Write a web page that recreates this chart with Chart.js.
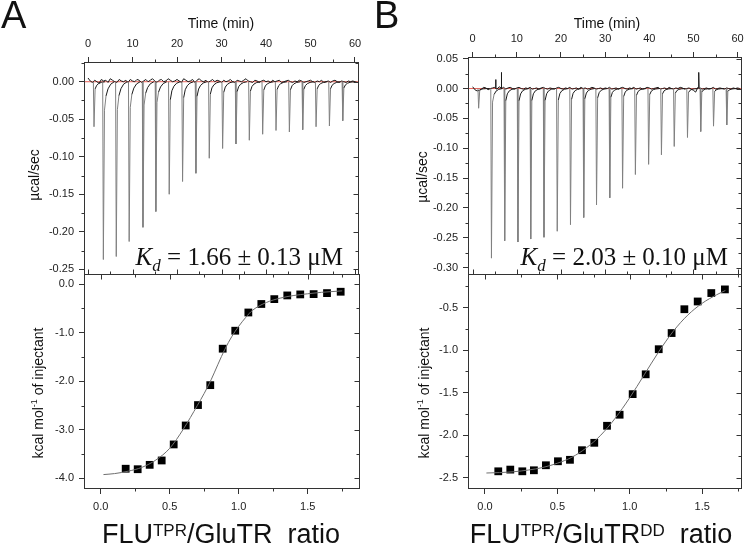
<!DOCTYPE html>
<html><head><meta charset="utf-8">
<script src="https://cdn.jsdelivr.net/npm/chart.js@4"></script>
<style>
html,body{margin:0;padding:0;background:#fff;}
#wrap{position:relative;width:745px;height:546px;overflow:hidden;background:#fff;}
canvas{position:absolute;}
</style></head><body>
<div id="wrap">
<canvas id="cA1" width="372" height="275" style="left:0;top:0;width:372px;height:275px"></canvas>
<canvas id="cB1" width="373" height="275" style="left:372px;top:0;width:373px;height:275px"></canvas>
<canvas id="cA2" width="372" height="272" style="left:0;top:274px;width:372px;height:272px"></canvas>
<canvas id="cB2" width="373" height="272" style="left:372px;top:274px;width:373px;height:272px"></canvas>
</div>
<script>
// ================= DATA =================
// Raw titration traces (top panels): injection times (min) and peak heights (µcal/sec)
const injTimesA = [1.2,3.3,6.2,9.1,12.2,15.1,18.1,21.1,24.1,27.1,30.1,33.1,36.1,39.1,42.1,45.1,48.1,51.1,54.1,57.1];
const peakDepthsA = [-0.060,-0.237,-0.233,-0.213,-0.194,-0.173,-0.150,-0.133,-0.122,-0.102,-0.089,-0.083,-0.078,-0.070,-0.065,-0.067,-0.064,-0.060,-0.059,-0.052];
const injTimesB = [1.2,4.1,7.1,10.1,13.0,16.0,19.0,22.0,25.0,27.9,30.9,33.8,36.7,39.7,42.6,45.5,48.5,51.5,54.4,57.4];
const peakDepthsB = [-0.033,-0.284,-0.255,-0.257,-0.252,-0.249,-0.239,-0.228,-0.216,-0.195,-0.183,-0.167,-0.144,-0.127,-0.111,-0.097,-0.082,-0.072,-0.063,-0.061];
// baseline wiggle, one value every 0.5 min from t = 0 (in 0.001 µcal/sec)
const baselineA_milli = [5,1,-1,2,0,-2,3,1,2,-1,4,2,0,-1,3,1,0,2,-1,3,
  1,0,3,2,-1,1,3,0,2,4,1,-1,2,3,0,1,4,2,0,1,
  3,1,-1,4,2,0,1,3,-1,2,4,1,0,2,-1,1,3,0,2,1,
  -1,2,0,1,3,0,-1,2,1,0,2,4,1,0,-1,2,1,-1,1,2,
  0,1,-1,2,0,1,2,-1,0,1,2,0,-1,1,0,2,1,-1,0,1,
  2,0,-1,1,0,2,-1,0,1,-1,1,2,0,-1,1,0,-1,1,0,1,0,-1];
const baselineB_milli = [3,-2,-4,-3,-1,2,1,-2,0,1,2,-1,3,1,2,-1,1,2,0,-1,
  1,2,0,-1,1,0,2,-1,0,1,-1,1,2,0,-1,1,0,-1,1,2,
  0,-1,1,0,2,-1,0,1,-1,2,0,1,-1,0,2,1,-1,0,1,-1,
  1,0,2,-1,0,1,-1,1,2,0,-1,1,0,2,-1,0,1,-1,0,2,
  1,-1,0,1,2,-1,0,1,-1,2,0,-1,1,0,2,1,-1,0,1,-1,
  -3,-6,2,1,-1,0,1,-1,0,2,-1,0,1,0,-1,1,0,-1,1,0,1,0];
// isolated upward spikes in trace B
const spikeTimesB = [5.2, 6.5, 51.2];
const spikeValsB = [0.015, 0.027, 0.027];
// peak profile (shape): time offsets (min) and fraction of peak height
const profOffs = [0, 0.15, 0.4, 0.75, 1.2, 1.8, 2.6];
const profFracA = [0, 1, 0.16, 0.08, 0.04, 0.014, 0];
const profFracB = [0, 1, 0.08, 0.035, 0.015, 0.005, 0];

// Integrated heats (bottom panels)
const ratioA = [0.181,0.268,0.355,0.442,0.529,0.616,0.705,0.794,0.884,0.975,1.07,1.164,1.258,1.352,1.446,1.543,1.64,1.739];
const heatA  = [-3.80,-3.81,-3.72,-3.63,-3.30,-2.91,-2.49,-2.08,-1.33,-0.96,-0.585,-0.41,-0.31,-0.234,-0.213,-0.207,-0.186,-0.158];
const fitXA = [0.02,0.1,0.2,0.3,0.4,0.5,0.6,0.7,0.75,0.8,0.85,0.9,0.95,1.0,1.05,1.1,1.2,1.3,1.4,1.5,1.6,1.75];
const fitYA = [-3.92,-3.90,-3.85,-3.77,-3.62,-3.38,-2.98,-2.50,-2.25,-1.97,-1.65,-1.34,-1.08,-0.87,-0.69,-0.54,-0.38,-0.29,-0.235,-0.20,-0.17,-0.14];
const ratioB = [0.092,0.175,0.258,0.338,0.421,0.504,0.587,0.67,0.755,0.843,0.93,1.02,1.11,1.2,1.289,1.377,1.469,1.563,1.657];
const heatB  = [-2.425,-2.405,-2.425,-2.413,-2.354,-2.307,-2.29,-2.177,-2.09,-1.89,-1.76,-1.518,-1.285,-0.99,-0.80,-0.52,-0.429,-0.33,-0.287];
const fitXB = [0.01,0.1,0.2,0.3,0.4,0.5,0.6,0.7,0.8,0.9,1.0,1.1,1.2,1.3,1.4,1.5,1.6,1.66];
const fitYB = [-2.445,-2.44,-2.43,-2.41,-2.38,-2.33,-2.26,-2.15,-2.00,-1.80,-1.56,-1.29,-1.02,-0.78,-0.59,-0.45,-0.35,-0.30];

// Tick values
const timeTicks = [0,10,20,30,40,50,60];
const timeMinor = [5,15,25,35,45,55];
const rawTicksA = [0,-0.05,-0.10,-0.15,-0.20,-0.25];
const rawMinorA = [0.025,-0.025,-0.075,-0.125,-0.175,-0.225];
const rawTicksB = [0.05,0,-0.05,-0.10,-0.15,-0.20,-0.25,-0.30];
const rawMinorB = [0.025,-0.025,-0.075,-0.125,-0.175,-0.225,-0.275];
const ratioTicks = [0,0.5,1.0,1.5];
const ratioMinor = [0.25,0.75,1.25,1.75];
const heatTicksA = [0,-1,-2,-3,-4];
const heatMinorA = [-0.5,-1.5,-2.5,-3.5];
const heatTicksB = [-0.5,-1.0,-1.5,-2.0,-2.5];
const heatMinorB = [-0.25,-0.75,-1.25,-1.75,-2.25];

// Texts
const labelTime = 'Time (min)';
const labelRaw = 'µcal/sec';
const kdA = '1.66 ± 0.13 μM';
const kdB = '2.03 ± 0.10 μM';

// ================= HELPERS =================
const SANS = '"Liberation Sans", Arial, sans-serif';
const SERIF = '"Liberation Serif", "Times New Roman", serif';

function tracePeaks(times, depths, frac) {
  const pts = [];
  times.forEach((t, i) => {
    profOffs.forEach((o, k) => pts.push({x: t + o, y: depths[i] * frac[k]}));
    pts.push({x: t + profOffs[profOffs.length - 1] + 0.01, y: null});
  });
  return pts;
}
function traceBaseline(milli, sTimes, sVals) {
  const pts = milli.map((m, i) => ({x: i * 0.5, y: m / 1000}));
  (sTimes || []).forEach((t, i) => {
    pts.push({x: t - 0.08, y: 0.001});
    pts.push({x: t, y: sVals[i]});
    pts.push({x: t + 0.08, y: 0.0});
  });
  pts.sort((a, b) => a.x - b.x);
  return pts;
}
const zip = (xs, ys) => xs.map((x, i) => ({x, y: ys[i]}));

function drawRich(ctx, parts, x, y, align, rot) {
  ctx.save();
  ctx.translate(x, y);
  if (rot) ctx.rotate(rot);
  let total = 0;
  parts.forEach(p => { ctx.font = p.font; p.w = ctx.measureText(p.t).width; total += p.w; });
  let cx = align === 'center' ? -total / 2 : (align === 'right' ? -total : 0);
  ctx.textAlign = 'left'; ctx.textBaseline = 'alphabetic';
  parts.forEach(p => { ctx.font = p.font; ctx.fillStyle = '#111'; ctx.fillText(p.t, cx, p.dy || 0); cx += p.w; });
  ctx.restore();
}
function textPlugin(items, ox, oy) {
  return { id: 'texts', afterDraw(chart) {
    items.forEach(it => drawRich(chart.ctx, it.parts, it.x - ox, it.y - oy, it.align, it.rot));
  }};
}
function framePlugin(xSide, majX, minX, majY, minY) {
  return { id: 'frame', afterDraw(chart) {
    const {ctx, chartArea: a} = chart; const xs = chart.scales.x, ys = chart.scales.y;
    ctx.save(); ctx.strokeStyle = '#333'; ctx.lineWidth = 1;
    ctx.strokeRect(a.left + 0.5, a.top + 0.5, a.right - a.left - 1, a.bottom - a.top - 1);
    const top = a.top + 0.5, bot = a.bottom - 0.5, lef = a.left + 0.5, rig = a.right - 0.5;
    const xMain = xSide === 'top' ? top : bot, xOpp = xSide === 'top' ? bot : top;
    const d = xSide === 'top' ? -1 : 1;
    ctx.beginPath();
    const px = v => Math.round(xs.getPixelForValue(v)) + 0.5;
    const py = v => Math.round(ys.getPixelForValue(v)) + 0.5;
    majX.forEach(v => { ctx.moveTo(px(v), xOpp); ctx.lineTo(px(v), xOpp + d * 5); });
    minX.forEach(v => { ctx.moveTo(px(v), xMain); ctx.lineTo(px(v), xMain + d * 3);
                        ctx.moveTo(px(v), xOpp); ctx.lineTo(px(v), xOpp + d * 3); });
    majY.forEach(v => { ctx.moveTo(rig, py(v)); ctx.lineTo(rig - 5, py(v)); });
    minY.forEach(v => { ctx.moveTo(lef, py(v)); ctx.lineTo(lef - 3, py(v));
                        ctx.moveTo(rig, py(v)); ctx.lineTo(rig - 3, py(v)); });
    ctx.stroke(); ctx.restore();
  }};
}
function axis(pos, min, max, ticks, dec, size, pad) {
  const isX = pos === 'top' || pos === 'bottom';
  return {
    type: 'linear', position: pos, min, max,
    afterBuildTicks: s => { s.ticks = ticks.map(v => ({value: v})); },
    afterFit: s => {
      if (isX) s.height = size; else s.width = size;
      s.paddingTop = 0; s.paddingBottom = 0; s.paddingLeft = 0; s.paddingRight = 0;
    },
    ticks: { autoSkip: false, maxRotation: 0, padding: pad, color: '#222',
      font: {family: SANS, size: 11},
      callback: v => dec === 0 ? String(v) : Number(v).toFixed(dec) },
    grid: { drawOnChartArea: false, drawTicks: true, tickLength: 5, color: '#333', tickWidth: 1 },
    border: { display: false }
  };
}
function baseOptions(scales, padding) {
  return {
    responsive: false, animation: false, devicePixelRatio: 1,
    layout: { padding, autoPadding: false },
    plugins: { legend: { display: false }, tooltip: { enabled: false } },
    scales
  };
}
const grayOrBlack = c => (Math.abs(c.p1.parsed.y - c.p0.parsed.y) > 0.012 ? '#808080' : '#1a1a1a');

function rawChart(id, ox, oy, xmin, xmax, ymin, ymax, yTicks, yMinor, axW, axH, padR,
                  times, depths, frac, milli, sT, sV, items) {
  return new Chart(document.getElementById(id), {
    type: 'line',
    data: { datasets: [
      { data: tracePeaks(times, depths, frac), borderWidth: 1, pointRadius: 0, spanGaps: false,
        borderColor: '#808080', segment: { borderColor: grayOrBlack } },
      { data: traceBaseline(milli, sT, sV), borderWidth: 1, pointRadius: 0, borderColor: '#1a1a1a' },
      { data: [{x: xmin, y: 0}, {x: xmax, y: 0}], borderWidth: 1, pointRadius: 0, borderColor: 'rgba(230,70,60,0.85)' }
    ]},
    options: baseOptions({
      x: axis('top', xmin, xmax, timeTicks, 0, axH, 6),
      y: axis('left', ymin, ymax, yTicks, 2, axW, 5)
    }, {left: 0, right: padR, top: 0, bottom: 0}),
    plugins: [framePlugin('top', timeTicks, timeMinor, yTicks, yMinor), textPlugin(items, ox, oy)]
  });
}
function heatChart(id, ox, oy, xmin, xmax, ymin, ymax, yTicks, yMinor, axW, axH, padR,
                   rx, hy, fx, fy, items) {
  return new Chart(document.getElementById(id), {
    type: 'line',
    data: { datasets: [
      { data: zip(fx, fy), borderWidth: 1, pointRadius: 0, borderColor: '#6e6e6e', cubicInterpolationMode: 'monotone' },
      { data: zip(rx, hy), showLine: false, pointStyle: 'rect', pointRadius: 5.5,
        backgroundColor: '#000', borderColor: '#000', borderWidth: 0 }
    ]},
    options: baseOptions({
      x: axis('bottom', xmin, xmax, ratioTicks, 1, axH, 6),
      y: axis('left', ymin, ymax, yTicks, 1, axW, 5)
    }, {left: 0, right: padR, top: 0, bottom: 0}),
    plugins: [framePlugin('bottom', ratioTicks, ratioMinor, yTicks, yMinor), textPlugin(items, ox, oy)]
  });
}

const f = (size, fam, style) => (style ? style + ' ' : '') + size + 'px ' + (fam || SANS);
const kdParts = v => [
  {t: 'K', font: f(25, SERIF, 'italic')},
  {t: 'd', font: f(17, SERIF, 'italic'), dy: 6},
  {t: ' = ' + v, font: f(25, SERIF)}
];
const kcalParts = [
  {t: 'kcal mol', font: f(14)}, {t: '-1', font: f(9), dy: -6}, {t: ' of injectant', font: f(14)}
];
const ratioParts = dd => {
  const p = [{t: 'FLU', font: f(27)}, {t: 'TPR', font: f(17), dy: -7}, {t: '/GluTR', font: f(27)}];
  if (dd) p.push({t: 'DD', font: f(17), dy: -7});
  p.push({t: '  ratio', font: f(27)});
  return p;
};

// ================= CHARTS =================
rawChart('cA1', 0, 0, -0.9, 60.9, -0.2576, 0.0263, rawTicksA, rawMinorA, 84, 62, 13,
  injTimesA, peakDepthsA, profFracA, baselineA_milli, [], [], [
    {parts: [{t: 'A', font: f(38)}], x: 1, y: 28, align: 'left'},
    {parts: [{t: labelTime, font: f(14)}], x: 221, y: 28, align: 'center'},
    {parts: [{t: labelRaw, font: f(14)}], x: 39, y: 175, align: 'center', rot: -Math.PI / 2},
    {parts: kdParts(kdA), x: 343, y: 265, align: 'right'}
  ]);
rawChart('cB1', 372, 0, -1.06, 61.0, -0.3122, 0.0528, rawTicksB, rawMinorB, 96, 57, 3,
  injTimesB, peakDepthsB, profFracB, baselineB_milli, spikeTimesB, spikeValsB, [
    {parts: [{t: 'B', font: f(38)}], x: 374, y: 28, align: 'left'},
    {parts: [{t: labelTime, font: f(14)}], x: 607, y: 28, align: 'center'},
    {parts: [{t: labelRaw, font: f(14)}], x: 427, y: 177, align: 'center', rot: -Math.PI / 2},
    {parts: kdParts(kdB), x: 728, y: 265, align: 'right'}
  ]);
heatChart('cA2', 0, 274, -0.121, 1.879, -4.217, 0.207, heatTicksA, heatMinorA, 84, 57, 12,
  ratioA, heatA, fitXA, fitYA, [
    {parts: kcalParts, x: 43, y: 393, align: 'center', rot: -Math.PI / 2},
    {parts: ratioParts(false), x: 221, y: 543, align: 'center'}
  ]);
heatChart('cB2', 372, 274, -0.117, 1.775, -2.633, -0.106, heatTicksB, heatMinorB, 96, 57, 3,
  ratioB, heatB, fitXB, fitYB, [
    {parts: kcalParts, x: 429, y: 393, align: 'center', rot: -Math.PI / 2},
    {parts: ratioParts(true), x: 601, y: 543, align: 'center'}
  ]);
</script>
</body></html>
